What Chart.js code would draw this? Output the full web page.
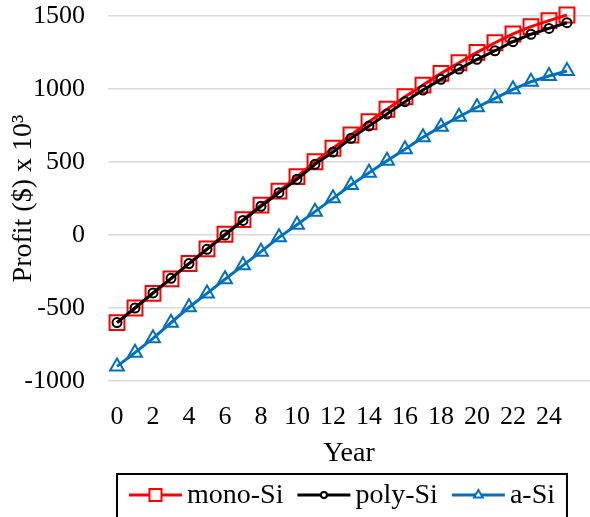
<!DOCTYPE html>
<html>
<head>
<meta charset="utf-8">
<script src="https://cdn.jsdelivr.net/npm/chart.js@4.4.1/dist/chart.umd.min.js"></script>
<style>
  html, body { margin: 0; padding: 0; background: #fff; }
  #wrap { width: 590px; height: 517px; }
</style>
</head>
<body>
<div id="wrap"><canvas id="profitChart" width="590" height="517"></canvas></div>
<script>
const years = [0, 1, 2, 3, 4, 5, 6, 7, 8, 9, 10, 11, 12, 13, 14, 15, 16, 17, 18, 19, 20, 21, 22, 23, 24, 25]
const monoSi = [-600, -500, -400, -300, -195, -95, 5, 105, 205, 300, 400, 502, 594, 685, 776, 861, 947, 1027, 1107, 1180, 1251, 1317, 1377, 1427, 1468, 1507]
const polySi = [-600, -500, -397, -297, -196, -98, 0, 100, 197, 290, 382, 484, 568, 662, 747, 829, 913, 993, 1066, 1137, 1203, 1262, 1324, 1375, 1415, 1454]
const aSi = [-900, -806, -708, -601, -495, -400, -303, -208, -114, -16, 70, 160, 251, 342, 427, 509, 587, 669, 742, 810, 875, 936, 998, 1050, 1089, 1123]
const yTicks = [-1000, -500, 0, 500, 1000, 1500]
const xTicks = [0, 2, 4, 6, 8, 10, 12, 14, 16, 18, 20, 22, 24]

const serif = '"Liberation Serif", "Times New Roman", serif'

function toPoints(values) {
    return values.map((v, i) => ({ x: years[i], y: v }))
}

// legend drawn by hand: line + marker, with a box round it
const boxLegend = {
    id: 'boxLegend',
    afterDraw(chart) {
        const ctx = chart.ctx
        const xs = chart.scales.x
        const left = xs.getPixelForValue(years[0])
        const right = xs.getPixelForValue(years[years.length - 1])
        const top = 474
        const midY = 495

        ctx.save()
        ctx.strokeStyle = '#000'
        ctx.lineWidth = 2
        ctx.strokeRect(left, top, right - left, 60)

        ctx.font = '28px ' + serif
        ctx.textBaseline = 'middle'
        const sets = [0, 1, 2].map(i => chart.data.datasets[i])
        const lineLen = 53, gapText = 5, gapItem = 14
        let total = 0
        sets.forEach((ds, i) => {
            total += lineLen + gapText + ctx.measureText(ds.label).width
            if (i < sets.length - 1) total += gapItem
        })
        let x = (left + right) / 2 - total / 2
        sets.forEach(ds => {
            ctx.strokeStyle = ds.borderColor
            ctx.lineWidth = ds.borderWidth
            ctx.beginPath()
            ctx.moveTo(x, midY)
            ctx.lineTo(x + lineLen, midY)
            ctx.stroke()
            ctx.fillStyle = '#fff'
            ctx.lineWidth = ds.pointBorderWidth
            Chart.helpers.drawPoint(ctx, {
                pointStyle: ds.pointStyle,
                radius: ds.legendRadius,
                rotation: 0,
                borderWidth: ds.pointBorderWidth
            }, x + lineLen / 2, midY)
            x += lineLen + gapText
            ctx.fillStyle = '#000'
            ctx.fillText(ds.label, x, midY + 1)
            x += ctx.measureText(ds.label).width + gapItem
        })
        ctx.restore()
    }
}

const ctxProfit = document.getElementById('profitChart').getContext('2d')
new Chart(ctxProfit, {
    type: 'line',
    data: {
        datasets: [
            {
                label: 'mono-Si',
                data: toPoints(monoSi),
                borderColor: '#FF0000',
                borderWidth: 3,
                pointStyle: 'rect',
                pointRadius: 10.5,
                legendRadius: 8.5,
                pointBorderWidth: 2,
                pointBackgroundColor: 'rgba(255,255,255,0)',
                clip: false,
                order: 2
            },
            {
                label: 'poly-Si',
                data: toPoints(polySi),
                borderColor: '#000000',
                borderWidth: 3,
                pointStyle: 'circle',
                pointRadius: 4.5,
                legendRadius: 3,
                pointBorderWidth: 2,
                pointBackgroundColor: 'rgba(255,255,255,0)',
                clip: false,
                order: 1
            },
            {
                label: 'a-Si',
                data: toPoints(aSi),
                borderColor: '#0070C0',
                borderWidth: 3,
                pointStyle: 'triangle',
                pointRadius: 8,
                legendRadius: 5,
                pointBorderWidth: 2,
                pointBackgroundColor: 'rgba(255,255,255,0)',
                clip: false,
                order: 0
            }
        ]
    },
    options: {
        responsive: false,
        animation: false,
        layout: { autoPadding: false, padding: { top: 16, right: 0, bottom: 47, left: 0 } },
        plugins: {
            legend: { display: false },
            tooltip: { enabled: false }
        },
        scales: {
            x: {
                type: 'linear',
                min: -0.5,
                max: 26.28,
                afterBuildTicks: axis => { axis.ticks = xTicks.map(v => ({ value: v })) },
                afterFit: axis => {
                    axis.height = 89
                    axis.paddingLeft = 0
                    axis.paddingRight = 0
                },
                grid: { display: false, drawTicks: false },
                border: { display: false },
                ticks: {
                    color: '#000',
                    padding: 21,
                    maxRotation: 0,
                    autoSkip: false,
                    font: { family: serif, size: 26 }
                },
                title: {
                    display: true,
                    text: 'Year',
                    color: '#000',
                    padding: { top: 0, bottom: 0 },
                    font: { family: serif, size: 28 }
                }
            },
            y: {
                min: -1000,
                max: 1500,
                afterBuildTicks: axis => { axis.ticks = yTicks.map(v => ({ value: v })) },
                afterFit: axis => {
                    axis.width = 108
                    axis.paddingTop = 0
                    axis.paddingBottom = 0
                },
                grid: { color: '#D9D9D9', lineWidth: 1.5, drawTicks: false },
                border: { display: false },
                ticks: {
                    color: '#000',
                    padding: 23,
                    callback: v => String(v),
                    font: { family: serif, size: 26 }
                },
                title: {
                    display: true,
                    text: 'Profit ($) x 10³',
                    color: '#000',
                    padding: { top: 7, bottom: 0 },
                    font: { family: serif, size: 28 }
                }
            }
        }
    },
    plugins: [boxLegend]
})
</script>
</body>
</html>
